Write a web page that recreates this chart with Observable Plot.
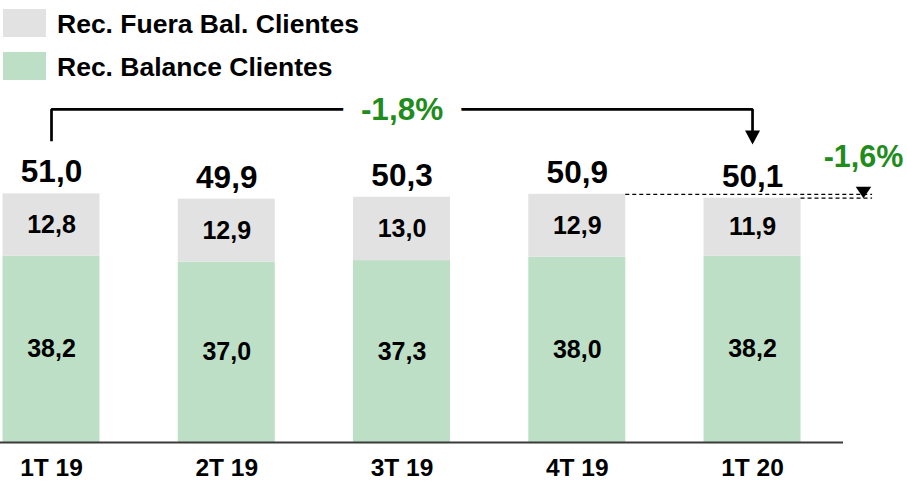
<!DOCTYPE html>
<html><head><meta charset="utf-8">
<script src="https://cdn.jsdelivr.net/npm/d3@7"></script>
<script src="https://cdn.jsdelivr.net/npm/@observablehq/plot@0.6"></script>
<style>
body{margin:0;background:#fff;font-family:"Liberation Sans",Arial,sans-serif;}
#legend{position:relative;height:90px;width:907px;}
.sw{position:absolute;left:3px;width:43px;height:28px;}
.lt{position:absolute;left:57px;font-size:26.5px;font-weight:bold;line-height:28px;white-space:nowrap;color:#000;}
#chart svg{display:block;}
</style></head><body>
<div id="legend"></div>
<div id="chart"></div>
<script>
const categories = ["1T 19", "2T 19", "3T 19", "4T 19", "1T 20"];
const balance = [38.2, 37.0, 37.3, 38.0, 38.2];
const offBalance = [12.8, 12.9, 13.0, 12.9, 11.9];
const totals = [51.0, 49.9, 50.3, 50.9, 50.1];
const seriesNames = ["Rec. Fuera Bal. Clientes", "Rec. Balance Clientes"];
const seriesColors = ["#e2e2e2", "#bddfc6"];
const changeLabels = ["-1,8%", "-1,6%"];

// annotation levels (value units)
const bracketLevel = 68.3, bracketLeftEnd = 61.8, bracketArrowTip = 61.1;

const green = "#1f8c1c";
const fmt = v => v.toFixed(1).replace(".", ",");
const half = 0.2767;

// legend
const legend = document.getElementById("legend");
seriesNames.forEach((name, k) => {
  const sw = document.createElement("div");
  sw.className = "sw"; sw.style.top = (9 + k * 42.5) + "px"; sw.style.background = seriesColors[k];
  const lt = document.createElement("div");
  lt.className = "lt"; lt.style.top = (10.1 + k * 42.7) + "px"; lt.textContent = name;
  legend.append(sw, lt);
});

const rows = categories.map((c, i) => ({i, c, balance: balance[i], off: offBalance[i], total: totals[i]}));

const downTriangle = (w, h) => ({draw(ctx) { ctx.moveTo(0, 0); ctx.lineTo(-w / 2, -h); ctx.lineTo(w / 2, -h); ctx.closePath(); }});

const bracket = [
  {x: 0, y: bracketLeftEnd}, {x: 0, y: bracketLevel},
  {x: 4, y: bracketLevel}, {x: 4, y: bracketArrowTip + 1.5}
];
const dashEnd = 4.685, arrow2X = 4.633;
const dashes = [{x1: 3 + half, y: totals[3]}, {x1: 4 + half, y: totals[4]}];

const chart = Plot.plot({
  width: 907, height: 391,
  marginLeft: 0, marginRight: 64, marginTop: 59.44, marginBottom: 39,
  style: {fontFamily: "Liberation Sans, Arial, sans-serif", fontWeight: "bold", background: "#fff"},
  x: {type: "linear", domain: [-0.291, 4.519], axis: null},
  y: {domain: [0, 60], axis: null},
  marks: [
    Plot.rect(rows, {x1: d => d.i - half, x2: d => d.i + half, y1: 0, y2: "balance", fill: seriesColors[1]}),
    Plot.rect(rows, {x1: d => d.i - half, x2: d => d.i + half, y1: "balance", y2: d => d.balance + d.off, fill: seriesColors[0]}),
    Plot.ruleY([0], {stroke: "#3a3a3a", strokeWidth: 2}),
    Plot.axisX({ticks: d3.range(categories.length), tickFormat: i => categories[i], tickSize: 0, tickPadding: 16, fontSize: 24.5, fontWeight: "bold", fill: "#000"}),
    Plot.text(rows, {x: "i", y: d => d.balance / 2, text: d => fmt(d.balance), fontSize: 25, fill: "#000"}),
    Plot.text(rows, {x: "i", y: d => d.balance + d.off / 2, text: d => fmt(d.off), fontSize: 25, fill: "#000"}),
    Plot.text(rows, {x: "i", y: "total", text: d => fmt(d.total), lineAnchor: "bottom", dy: -11.5, fontSize: 31.5, fill: "#000"}),
    Plot.line(bracket, {x: "x", y: "y", stroke: "#000", strokeWidth: 2.7, strokeLinejoin: "miter", strokeLinecap: "butt"}),
    Plot.dot([{x: 4, y: bracketArrowTip}], {x: "x", y: "y", symbol: downTriangle(15, 14), fill: "#000", r: 5}),
    Plot.text([changeLabels[0]], {x: 2, y: bracketLevel, text: d => d, fontSize: 31.5, fill: green, stroke: "#fff", strokeWidth: 38}),
    Plot.ruleY(dashes, {x1: "x1", x2: dashEnd, y: "y", stroke: "#000", strokeWidth: 1.2, strokeDasharray: "4,3"}),
    Plot.dot([{x: arrow2X, y: totals[4]}], {x: "x", y: "y", symbol: downTriangle(15.5, 11.5), fill: "#000", r: 5}),
    Plot.text([changeLabels[1]], {x: arrow2X, y: totals[4], dy: -41, text: d => d, fontSize: 30.5, fill: green})
  ]
});
document.getElementById("chart").append(chart);
</script>
</body></html>
